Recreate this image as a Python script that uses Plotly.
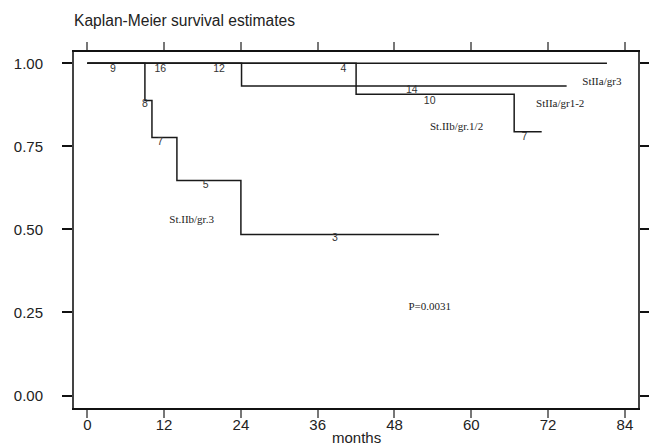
import plotly.graph_objects as go

# ---- data (months, survival probability) ----
gr3_IIa_t = [0, 81.2]
gr3_IIa_s = [1.0, 1.0]

gr12_IIa_t = [0, 24.1, 74.9]
gr12_IIa_s = [1.0, 0.932, 0.932]

gr12_IIb_t = [0, 42.0, 66.7, 71.0]
gr12_IIb_s = [1.0, 0.907, 0.794, 0.794]

gr3_IIb_t = [0, 9.0, 10.1, 14.0, 24.0, 54.95]
gr3_IIb_s = [1.0, 0.888, 0.777, 0.647, 0.485, 0.485]

# numbers at risk
risk_text = ["9", "16", "12", "4", "14", "10", "7", "8", "7", "5", "3"]
risk_x = [4.0, 11.4, 20.6, 40.0, 50.7, 53.5, 68.3, 9.0, 11.4, 18.5, 38.7]
risk_y = [0.982, 0.982, 0.982, 0.982, 0.917, 0.886, 0.776, 0.875, 0.761, 0.632, 0.473]

# group labels
group_text = ["StIIa/gr3", "StIIa/gr1-2", "St.IIb/gr.1/2", "St.IIb/gr.3", "P=0.0031"]
group_x = [80.4, 73.9, 57.7, 16.3, 53.5]
group_y = [0.943, 0.877, 0.807, 0.529, 0.265]

x_ticks = [0, 12, 24, 36, 48, 60, 72, 84]
y_ticks = [0.0, 0.25, 0.5, 0.75, 1.0]
y_tick_labels = ["0.00", "0.25", "0.50", "0.75", "1.00"]

fig = go.Figure()
for t, s in [(gr3_IIa_t, gr3_IIa_s), (gr12_IIa_t, gr12_IIa_s),
             (gr12_IIb_t, gr12_IIb_s), (gr3_IIb_t, gr3_IIb_s)]:
    fig.add_trace(go.Scatter(x=t, y=s, mode="lines", line_shape="hv",
                             line=dict(color="#1a1a1a", width=1.5),
                             showlegend=False, hoverinfo="skip"))

fig.add_trace(go.Scatter(x=risk_x, y=risk_y, mode="text", text=risk_text,
                         textfont=dict(family="Liberation Sans, Arial, sans-serif",
                                       size=10.5, color="#333"),
                         showlegend=False, hoverinfo="skip"))
fig.add_trace(go.Scatter(x=group_x, y=group_y, mode="text", text=group_text,
                         textfont=dict(family="Liberation Serif, Times New Roman, serif",
                                       size=11, color="#222"),
                         showlegend=False, hoverinfo="skip"))

fig.update_layout(
    width=649, height=445,
    margin=dict(l=74, r=11, t=52, b=37, autoexpand=False),
    paper_bgcolor="white", plot_bgcolor="white",
    font=dict(family="Liberation Sans, Arial, sans-serif", size=15, color="#222"),
    title=dict(text="Kaplan-Meier survival estimates", x=0, xref="paper",
               xanchor="left", y=1 - 21 / 445, yanchor="middle",
               font=dict(size=15.6, color="#222")),
    xaxis=dict(range=[-2.08, 86.05], tickvals=x_ticks, ticks="outside",
               ticklen=8, tickwidth=2, tickcolor="#777", mirror="allticks",
               showline=True, linecolor="#111", linewidth=1.5,
               showgrid=False, zeroline=False, ticklabelstandoff=-6,
               automargin=False),
    yaxis=dict(range=[-0.0376, 1.034], tickvals=y_ticks, ticktext=y_tick_labels,
               ticks="outside", ticklen=10, tickwidth=1.5, tickcolor="#111",
               mirror="allticks", showline=True, linecolor="#444", linewidth=2,
               showgrid=False, zeroline=False, ticklabelstandoff=16,
               automargin=False),
    annotations=[dict(text="months", x=0.5, xref="paper", y=-(437 - 408) / 356,
                      yref="paper", xanchor="center", yanchor="middle",
                      showarrow=False, font=dict(size=15, color="#222"))],
)

fig.write_html("out.html", config={"displayModeBar": False},
               post_script="document.body.style.margin='0px';"
                           "document.body.style.padding='0px';")
